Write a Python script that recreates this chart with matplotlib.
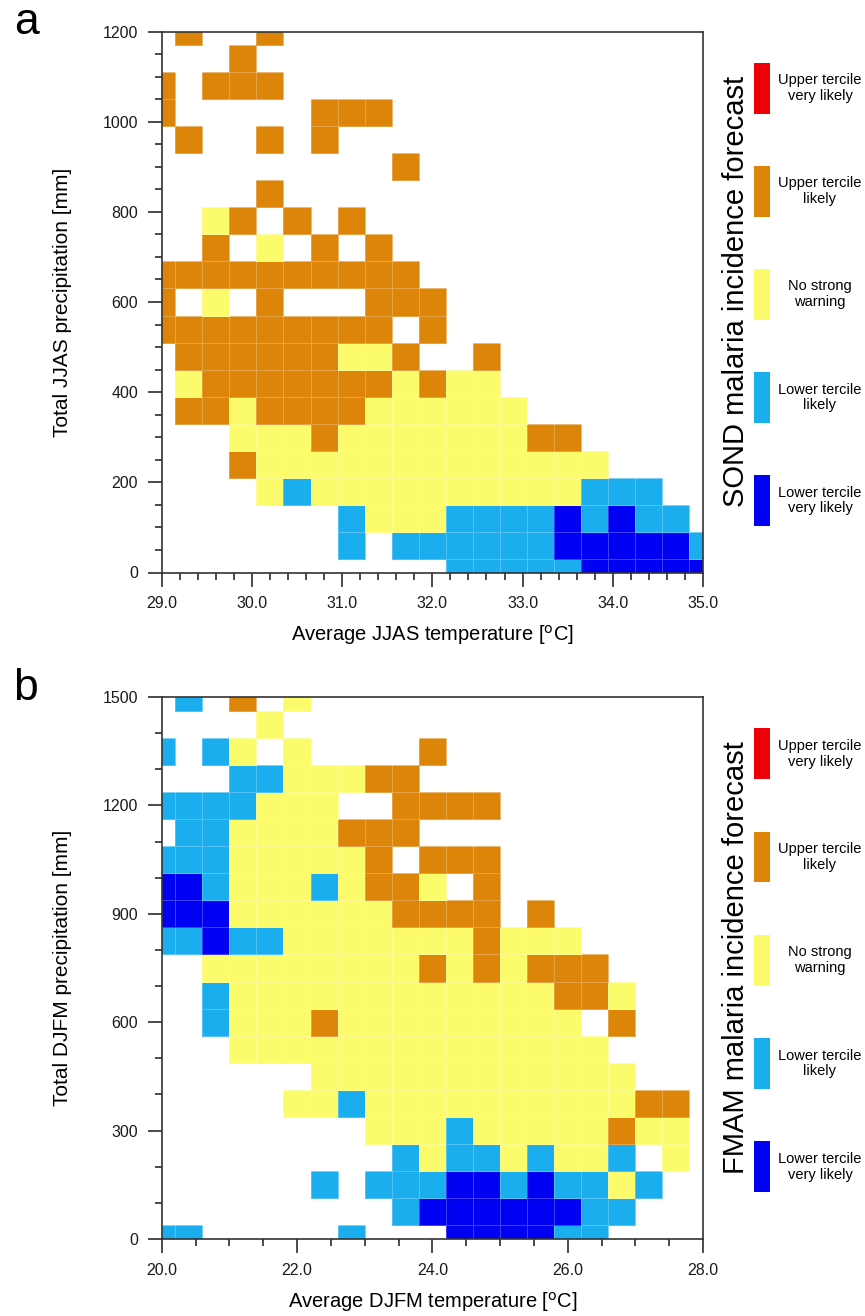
"""
Malaria incidence forecast tables
Panel a: SOND forecast from JJAS climate, panel b: FMAM forecast from DJFM climate
"""

import numpy as np
import matplotlib
matplotlib.use("Agg")
import matplotlib.pyplot as plt
from matplotlib.colors import ListedColormap, BoundaryNorm
from matplotlib.ticker import MultipleLocator, FormatStrFormatter

plt.rcParams['font.family'] = ['Liberation Sans', 'DejaVu Sans']

# ============================================================================
# Data
# ============================================================================
# forecast classes, legend order bottom -> top ('.' in the rows = no data)
CLASS_CODES = ['D', 'L', 'Y', 'O', 'R']
CLASS_LABELS = ['Lower tercile\nvery likely', 'Lower tercile\nlikely',
                'No strong\nwarning', 'Upper tercile\nlikely',
                'Upper tercile\nvery likely']
CLASS_COLORS = ['#0000f2', '#1aaeee', '#fbfb6c', '#dc8509', '#ee0008']

# panel a
jjas_temp = [29.0, 29.3, 29.6, 29.9, 30.2, 30.5, 30.8, 31.1, 31.4, 31.7, 32.0,
             32.3, 32.6, 32.9, 33.2, 33.5, 33.8, 34.1, 34.4, 34.7, 35.0]
jjas_prec = [0, 60, 120, 180, 240, 300, 360, 420, 480, 540, 600,
             660, 720, 780, 840, 900, 960, 1020, 1080, 1140, 1200]
# rows from 1200 mm (top) down to 0 mm, columns from 29.0 to 35.0
sond_rows = [
    ".O..O",
    "...O",
    "O.OOO",
    "O.....OOO",
    ".O..O.O",
    ".........O",
    "....O",
    "..YO.O.O",
    "..O.Y.O.O",
    "OOOOOOOOOO",
    "O.Y.O...OOO",
    "OOOOOOOOO.O",
    ".OOOOOOYYO..O",
    ".YOOOOOOOYOYY",
    ".OOYOOOOYYYYYY",
    "...YYYOYYYYYYYOO",
    "...OYYYYYYYYYYYYY",
    "....YLYYYYYYYYYYLLL",
    ".......LYYYLLLLDLDLL",
    ".......L.LLLLLLDDDDDL",
    "...........LLLLLDDDDD",
]

# panel b
djfm_temp = [20.0, 20.4, 20.8, 21.2, 21.6, 22.0, 22.4, 22.8, 23.2, 23.6, 24.0,
             24.4, 24.8, 25.2, 25.6, 26.0, 26.4, 26.8, 27.2, 27.6, 28.0]
djfm_prec = [0, 75, 150, 225, 300, 375, 450, 525, 600, 675, 750,
             825, 900, 975, 1050, 1125, 1200, 1275, 1350, 1425, 1500]
# rows from 1500 mm (top) down to 0 mm, columns from 20.0 to 28.0
fmam_rows = [
    ".L.O.Y",
    "....Y",
    "L.LY.Y....O",
    "...LLYYYOO",
    "LLLLYYY..OOOO",
    ".LLYYYYOOO",
    "LLLYYYYYO.OOO",
    "DDLYYYLYOOY.O",
    "DDDYYYYYYOOOO.O",
    "LLDLLYYYYYYYOYYY",
    "..YYYYYYYYOYOYOOO",
    "..LYYYYYYYYYYYYOOY",
    "..LYYYOYYYYYYYYY.O",
    "...YYYYYYYYYYYYYY",
    "......YYYYYYYYYYYY",
    ".....YYLYYYYYYYYYYOO",
    "........YYYLYYYYYOYY",
    ".........LYLLYLYYL.Y",
    "......L.LLLDDLDLLYL",
    ".........LDDDDDDLL",
    "LL.....L...DDDDLL",
]

FIG_W, FIG_H = 865, 1316

cmap = ListedColormap(CLASS_COLORS)
norm = BoundaryNorm(np.arange(-0.5, len(CLASS_CODES) + 0.5), cmap.N)


def rows_to_grid(rows, ncols):
    """Turn the class strings into a masked array (bottom row first)."""
    lookup = {c: k for k, c in enumerate(CLASS_CODES)}
    grid = [[lookup.get(c, np.nan) for c in r.ljust(ncols, '.')] for r in rows[::-1]]
    return np.ma.masked_invalid(np.array(grid, dtype=float))


def px_rect(left, top, right, bottom):
    return [left / FIG_W, 1 - bottom / FIG_H, (right - left) / FIG_W, (bottom - top) / FIG_H]


def plot_panel(fig, top, bottom, temp, prec, rows, xmajor, xminor, ymajor, yminor,
               xlabel, ylabel, title, letter):
    ax = fig.add_axes(px_rect(161.7, top, 703, bottom))
    grid = rows_to_grid(rows, len(temp))
    ax.pcolormesh(temp, prec, grid, cmap=cmap, norm=norm, shading='nearest',
                  edgecolors=(1, 1, 1, 0.25), linewidth=0.4)
    ax.set_xlim(temp[0], temp[-1])
    ax.set_ylim(prec[0], prec[-1])

    ax.xaxis.set_major_locator(MultipleLocator(xmajor))
    ax.xaxis.set_minor_locator(MultipleLocator(xminor))
    ax.yaxis.set_major_locator(MultipleLocator(ymajor))
    ax.yaxis.set_minor_locator(MultipleLocator(yminor))
    ax.xaxis.set_major_formatter(FormatStrFormatter('%.1f'))
    ax.yaxis.set_major_formatter(FormatStrFormatter('%d'))
    ax.tick_params(which='both', direction='out', top=False, right=False, width=1.1,
                   labelsize=11.5, colors='#1a1a1a')
    ax.tick_params(which='major', length=10, pad=7)
    ax.tick_params(which='minor', length=5)
    for sp in ax.spines.values():
        sp.set_linewidth(1.2)
        sp.set_color('#333333')

    ax.set_xlabel(xlabel, fontsize=14.5)
    ax.set_ylabel(ylabel, fontsize=15)
    ax.xaxis.set_label_coords(0.5, -0.094)
    ax.yaxis.set_label_coords(-0.166, 0.5)

    # legend column on the right
    lax = fig.add_axes(px_rect(720, top, FIG_W, bottom))
    lax.set_xlim(0, FIG_W - 720)
    lax.set_ylim(0, 1)
    lax.axis('off')
    centers = 0.133 + 0.1906 * np.arange(len(CLASS_CODES))
    lax.bar(np.full(len(centers), 42), 0.094, width=16, bottom=centers - 0.047,
            color=CLASS_COLORS, edgecolor='none')
    for c, lab in zip(centers, CLASS_LABELS):
        lax.text(100, c, lab, ha='center', va='center', fontsize=10.5, linespacing=1.15)
    lax.text(16, 0.52, title, rotation=90, ha='center', va='center', fontsize=21)

    fig.text(26 / FIG_W, 1 - (top + 3) / FIG_H, letter, fontsize=32,
             ha='center', va='baseline')
    return ax


if __name__ == "__main__":
    fig = plt.figure(figsize=(FIG_W / 100, FIG_H / 100), dpi=100)

    plot_panel(fig, 31.5, 572.5, jjas_temp, jjas_prec, sond_rows,
               1.0, 0.2, 200, 50,
               'Average JJAS temperature [$^{\\mathrm{o}}$C]',
               'Total JJAS precipitation [mm]',
               'SOND malaria incidence forecast', 'a')

    plot_panel(fig, 697, 1239, djfm_temp, djfm_prec, fmam_rows,
               2.0, 0.5, 300, 100,
               'Average DJFM temperature [$^{\\mathrm{o}}$C]',
               'Total DJFM precipitation [mm]',
               'FMAM malaria incidence forecast', 'b')

    fig.savefig('out.png', dpi=100)
